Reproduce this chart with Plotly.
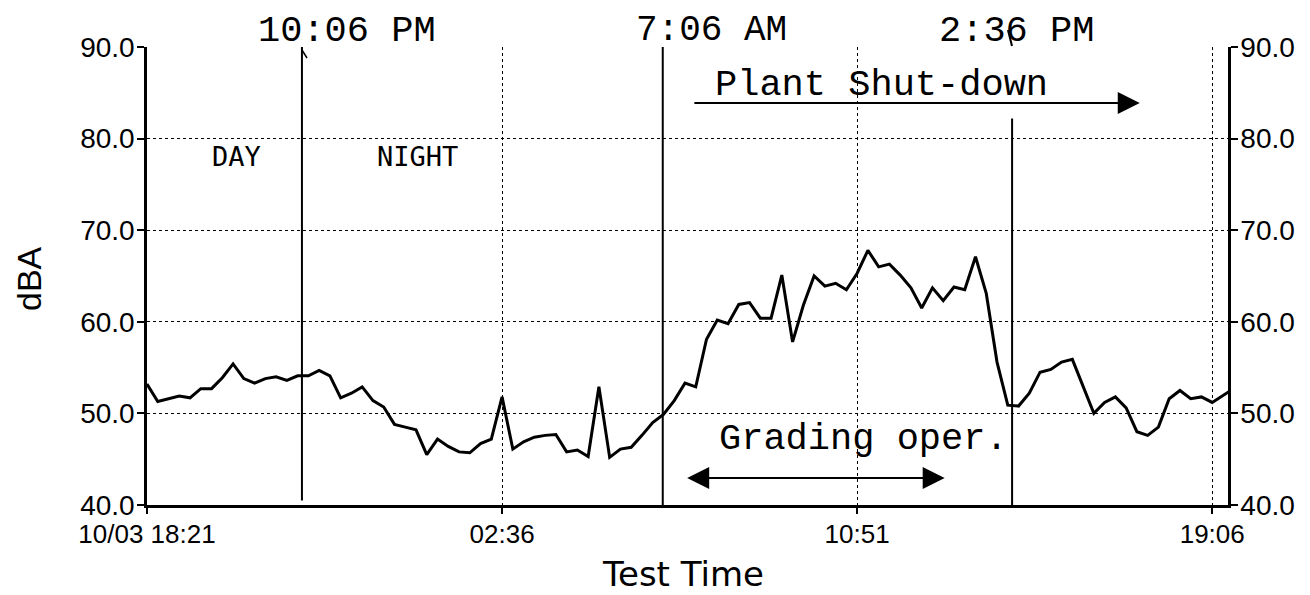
import pandas as pd
import plotly.graph_objects as go

# ---------------- data ----------------
start_time = "2023-10-03 18:21"
interval = "15min"
dba_values = [
    53.2, 51.3, 51.6, 51.9, 51.7, 52.7, 52.7, 53.9, 55.4, 53.8,
    53.3, 53.8, 54.0, 53.6, 54.1, 54.1, 54.7, 54.1, 51.7, 52.2,
    52.9, 51.4, 50.7, 48.8, 48.5, 48.2, 45.5, 47.2, 46.4, 45.8,
    45.7, 46.7, 47.2, 51.8, 46.1, 46.9, 47.4, 47.6, 47.7, 45.8,
    46.0, 45.3, 52.9, 45.2, 46.1, 46.3, 47.6, 49.0, 49.9, 51.4,
    53.3, 52.9, 58.1, 60.2, 59.8, 61.9, 62.1, 60.4, 60.4, 65.1,
    57.8, 61.8, 65.0, 63.9, 64.2, 63.5, 65.3, 67.8, 66.0, 66.3,
    65.1, 63.7, 61.5, 63.7, 62.3, 63.8, 63.5, 67.1, 63.1, 55.6,
    50.9, 50.8, 52.2, 54.5, 54.8, 55.6, 55.9, 52.9, 50.0, 51.2,
    51.8, 50.6, 48.0, 47.6, 48.5, 51.6, 52.5, 51.6, 51.8, 51.2,
    52.0, 52.7,
]
x_range = ["2023-10-03 18:21", "2023-10-04 19:28"]
tick_times = ["2023-10-03 18:21", "2023-10-04 02:36", "2023-10-04 10:51", "2023-10-04 19:06"]
tick_labels = ["10/03 18:21", "02:36", "10:51", "19:06"]
y_ticks = [40, 50, 60, 70, 80, 90]
y_tick_labels = ["40.0", "50.0", "60.0", "70.0", "80.0", "90.0"]

# hand-drawn event markers (as drawn on the chart)
event_times = ["2023-10-03 21:57", "2023-10-04 06:20", "2023-10-04 14:27"]
event_labels = ["10:06 PM", "7:06 AM", "2:36 PM"]
event_tops = [90, 90, 82.2]
event_bottoms = [40.5, 40, 40]

shutdown_span = ["2023-10-04 07:02", "2023-10-04 17:25"]
shutdown_y = 83.9
grading_span = ["2023-10-04 06:52", "2023-10-04 12:53"]
grading_y = 42.95

times = pd.date_range(start_time, periods=len(dba_values), freq=interval)

# ---------------- geometry helpers ----------------
OFF = 8  # page body margin
W, H = 1310, 595
L, T = 147 - OFF, 47 - OFF
R = W - (1228 - OFF)
B = H - (505 - OFF)
PW, PH = W - L - R, H - T - B


def px(xp, yp):
    """reference-screenshot pixel -> paper coordinates"""
    return (xp - OFF - L) / PW, (H - B - (yp - OFF)) / PH


MONO = "Liberation Mono"
SANS = "Liberation Sans"

fig = go.Figure()
fig.add_trace(go.Scatter(
    x=times, y=dba_values, mode="lines",
    line=dict(color="black", width=3),
    showlegend=False, hoverinfo="x+y",
))
# invisible twin trace to activate the right-hand axis
fig.add_trace(go.Scatter(
    x=times, y=dba_values, mode="lines", yaxis="y2",
    line=dict(color="rgba(0,0,0,0)", width=0),
    showlegend=False, hoverinfo="skip",
))

shapes = []
for et, top, bot in zip(event_times, event_tops, event_bottoms):
    shapes.append(dict(type="line", xref="x", yref="y", x0=et, x1=et, y0=bot, y1=top,
                       line=dict(color="black", width=2)))
# small pointer stroke under the "2:36 PM" label
x0p, y0p = px(1008, 30)
x1p, y1p = px(1012, 46)
shapes.append(dict(type="line", xref="paper", yref="paper", x0=x0p, y0=y0p, x1=x1p, y1=y1p,
                   line=dict(color="black", width=2)))
# small hook at top of the 10:06 PM line
x0p, y0p = px(302, 50)
x1p, y1p = px(307, 58)
shapes.append(dict(type="line", xref="paper", yref="paper", x0=x0p, y0=y0p, x1=x1p, y1=y1p,
                   line=dict(color="black", width=1.5)))

annotations = []
# event labels above plot
label_specs = [("10:06 PM", 347, 31, "middle"), ("7:06 AM", 711, 8, "top"), ("2:36 PM", 1016, 31, "middle")]
for lab, xp, yp, ya in label_specs:
    xx, yy = px(xp, yp)
    annotations.append(dict(xref="paper", yref="paper", x=xx, y=yy, text=lab,
                            showarrow=False, font=dict(family=MONO, size=37 if ya == "middle" else 36,
                                                       color="black"),
                            xanchor="center", yanchor=ya))

for lab, (xp, yp) in [("Plant Shut-down", (881, 85)), ("Grading oper.", (863, 439))]:
    xx, yy = px(xp, yp)
    annotations.append(dict(xref="paper", yref="paper", x=xx, y=yy, text=lab,
                            showarrow=False, font=dict(family=MONO, size=37, color="black"),
                            xanchor="center", yanchor="middle"))

for lab, (xp, yp) in [("DAY", (236, 156)), ("NIGHT", (417, 156))]:
    xx, yy = px(xp, yp)
    annotations.append(dict(xref="paper", yref="paper", x=xx, y=yy, text=lab,
                            showarrow=False, font=dict(family="DejaVu Sans Mono", size=27, color="black"),
                            xanchor="center", yanchor="middle"))

# axis titles
xx, yy = px(683, 574)
annotations.append(dict(xref="paper", yref="paper", x=xx, y=yy, text="Test Time",
                        showarrow=False, font=dict(family="DejaVu Sans", size=34, color="black"),
                        xanchor="center", yanchor="middle"))
xx, yy = px(OFF, 279)
annotations.append(dict(xref="paper", yref="paper", x=xx, y=yy, text="dBA", textangle=-90,
                        showarrow=False, font=dict(family=SANS, size=34, color="black"),
                        xanchor="left", yanchor="middle"))

# arrows
annotations.append(dict(xref="x", yref="y", axref="x", ayref="y",
                        x=shutdown_span[1], y=shutdown_y, ax=shutdown_span[0], ay=shutdown_y,
                        text="", showarrow=True, arrowhead=2, arrowsize=2.2, arrowwidth=2,
                        arrowcolor="black"))
annotations.append(dict(xref="x", yref="y", axref="x", ayref="y",
                        x=grading_span[1], y=grading_y, ax=grading_span[0], ay=grading_y,
                        text="", showarrow=True, arrowhead=2, startarrowhead=2,
                        arrowside="end+start", arrowsize=2.2, startarrowsize=2.2,
                        arrowwidth=2, arrowcolor="black"))

x_font = dict(family=SANS, size=26, color="black")
y_font = dict(family=SANS, size=28, color="black")

fig.update_layout(
    template="none",
    width=W, height=H,
    margin=dict(l=L, r=R, t=T, b=B, pad=0),
    paper_bgcolor="white", plot_bgcolor="white",
    shapes=shapes, annotations=annotations,
    xaxis=dict(
        type="date", range=x_range, automargin=False,
        tickvals=tick_times, ticktext=tick_labels,
        tickfont=x_font, ticks="outside", ticklen=6, tickwidth=2, tickcolor="black",
        ticklabelstandoff=-2,
        showline=True, linecolor="black", linewidth=2.5,
        showgrid=True, gridcolor="black", gridwidth=1.2, griddash="dot",
        zeroline=False,
    ),
    yaxis=dict(
        range=[40, 90], tickvals=y_ticks, ticktext=y_tick_labels, automargin=False,
        tickfont=y_font, ticks="outside", ticklen=7, tickwidth=2, tickcolor="black",
        ticklabelstandoff=-3,
        showline=True, linecolor="black", linewidth=2.5,
        showgrid=True, gridcolor="black", gridwidth=1.2, griddash="dot",
        zeroline=False,
    ),
    yaxis2=dict(
        range=[40, 90], tickvals=y_ticks, ticktext=y_tick_labels, automargin=False,
        overlaying="y", side="right",
        tickfont=y_font, ticks="outside", ticklen=7, tickwidth=2, tickcolor="black",
        ticklabelstandoff=-3,
        showline=True, linecolor="black", linewidth=2.5,
        showgrid=False, zeroline=False,
    ),
    showlegend=False,
)

fig.write_html("out.html")
